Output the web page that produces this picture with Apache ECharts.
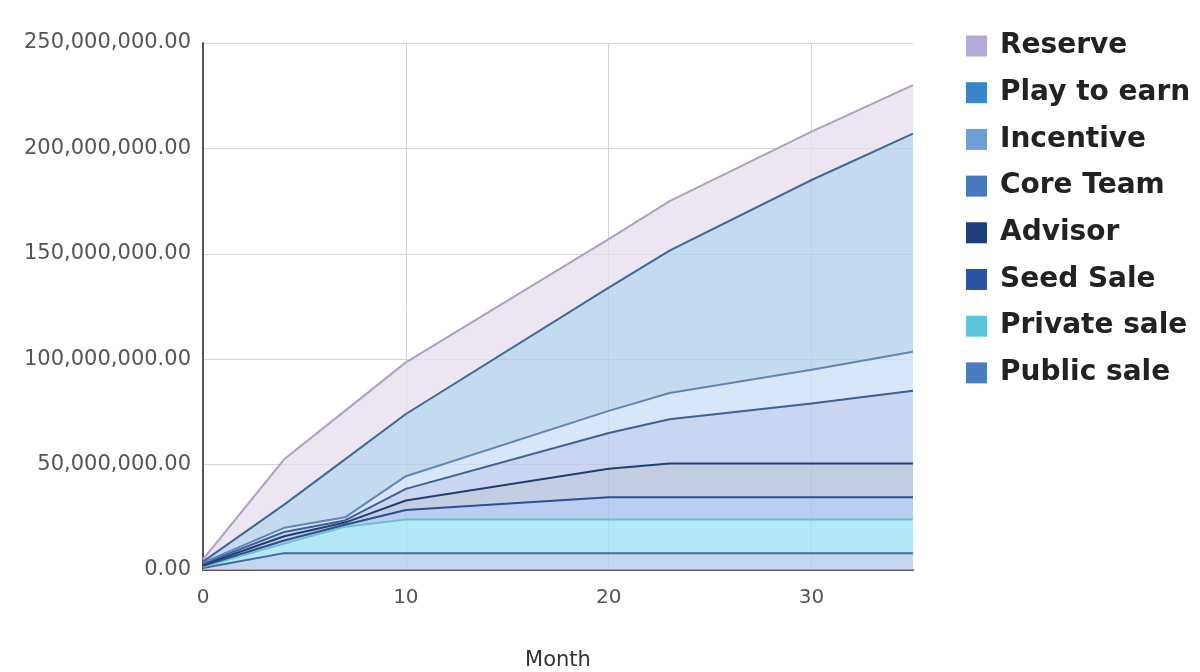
<!DOCTYPE html>
<html>
<head>
<meta charset="utf-8">
<script src="https://cdn.jsdelivr.net/npm/echarts@6/dist/echarts.min.js"></script>
<style>
html,body{margin:0;padding:0;background:#fff;}
#chart{width:1200px;height:672px;}
</style>
</head>
<body>
<div id="chart"></div>
<script>
// Months (x values)
const months = [0, 4, 7, 10, 20, 23, 30, 35];
// Per-series unlocked tokens in millions (stacked bottom to top)
const publicSale  = [1.0, 8.0, 8.0, 8.0, 8.0, 8.0, 8.0, 8.0];
const privateSale = [0.5, 4.5, 12.5, 16.0, 16.0, 16.0, 16.0, 16.0];
const seedSale    = [0.5, 1.5, 1.0, 4.5, 10.5, 10.5, 10.5, 10.5];
const advisor     = [0.5, 2.0, 1.0, 4.5, 13.5, 16.0, 16.0, 16.0];
const coreTeam    = [0.5, 2.0, 1.0, 5.5, 17.0, 21.0, 28.5, 34.5];
const incentive   = [0.5, 2.0, 1.5, 6.0, 10.5, 12.5, 16.0, 18.5];
const playToEarn  = [0.5, 11.0, 27.5, 29.5, 58.5, 67.5, 90.0, 103.5];
const reserve     = [1.0, 21.5, 23.0, 24.5, 23.0, 23.5, 23.0, 23.0];
const legendOrder = ['Reserve', 'Play to earn', 'Incentive', 'Core Team', 'Advisor', 'Seed Sale', 'Private sale', 'Public sale'];
const yTicks = { min: 0, max: 250000000, interval: 50000000 };
const xTicks = { min: 0, max: 35, interval: 10 };

const seriesDefs = [
  { name: 'Public sale',  values: publicSale,  line: '#3f6c9c', fill: '#b3c6ea', icon: '#4b7cc0' },
  { name: 'Private sale', values: privateSale, line: '#6fbfd2', fill: '#9be0f3', icon: '#5cc5dc' },
  { name: 'Seed Sale',    values: seedSale,    line: '#2b4f8f', fill: '#a2bcee', icon: '#2d54a3' },
  { name: 'Advisor',      values: advisor,     line: '#1f3f73', fill: '#afbcd8', icon: '#1d3f7a' },
  { name: 'Core Team',    values: coreTeam,    line: '#3d6095', fill: '#b7c7ec', icon: '#4a79c0' },
  { name: 'Incentive',    values: incentive,   line: '#5f86b5', fill: '#cadef7', icon: '#6f9fd6' },
  { name: 'Play to earn', values: playToEarn,  line: '#3e6a94', fill: '#b0ceea', icon: '#3a86c8' },
  { name: 'Reserve',      values: reserve,     line: '#a9a3bf', fill: '#e8dcef', icon: '#b3a8d6' }
];

function fmt(v) {
  return Number(v).toLocaleString('en-US', { minimumFractionDigits: 2, maximumFractionDigits: 2 });
}

const axisFont = 'DejaVu Sans';
const chart = echarts.init(document.getElementById('chart'), null, { renderer: 'canvas' });
chart.setOption({
  animation: false,
  backgroundColor: '#ffffff',
  grid: { left: 203, right: 287, top: 43, bottom: 102, containLabel: false, outerBoundsMode: 'none' },
  legend: {
    orient: 'vertical',
    left: 961,
    top: 27,
    itemWidth: 21,
    itemHeight: 21,
    itemGap: 18.7,
    icon: 'rect',
    data: legendOrder.map(n => {
      const d = seriesDefs.find(s => s.name === n);
      return { name: n, itemStyle: { color: d.icon } };
    }),
    textStyle: { fontFamily: 'DejaVu Sans', fontWeight: 'bold', fontSize: 28, color: '#222', padding: [0, 0, 0, 8] }
  },
  xAxis: {
    type: 'value',
    min: xTicks.min, max: xTicks.max, interval: xTicks.interval,
    name: 'Month',
    nameLocation: 'middle',
    nameGap: 80,
    nameTextStyle: { fontFamily: axisFont, fontSize: 21, color: '#333' },
    axisLine: { show: true, onZero: false, lineStyle: { color: '#555', width: 2 } },
    axisTick: { show: false },
    axisLabel: { fontFamily: axisFont, fontSize: 20, color: '#555', margin: 18, showMaxLabel: false },
    splitLine: { show: true, showMaxLine: false, lineStyle: { color: '#d4d4d4', width: 1 } }
  },
  yAxis: {
    type: 'value',
    min: yTicks.min, max: yTicks.max, interval: yTicks.interval,
    axisLine: { show: true, lineStyle: { color: '#555', width: 2 } },
    axisTick: { show: false },
    axisLabel: { fontFamily: axisFont, fontSize: 21, color: '#555', margin: 12, formatter: v => fmt(v) },
    splitLine: { show: true, lineStyle: { color: '#d4d4d4', width: 1 } }
  },
  series: seriesDefs.map(s => ({
    name: s.name,
    type: 'line',
    stack: 'total',
    symbol: 'none',
    smooth: false,
    color: s.icon,
    lineStyle: { color: s.line, width: 2 },
    areaStyle: { color: s.fill, opacity: 0.75 },
    // value first so that the stacked dimension is the y value
    encode: { x: 1, y: 0 },
    data: months.map((m, i) => [s.values[i] * 1000000, m])
  }))
});
</script>
</body>
</html>
